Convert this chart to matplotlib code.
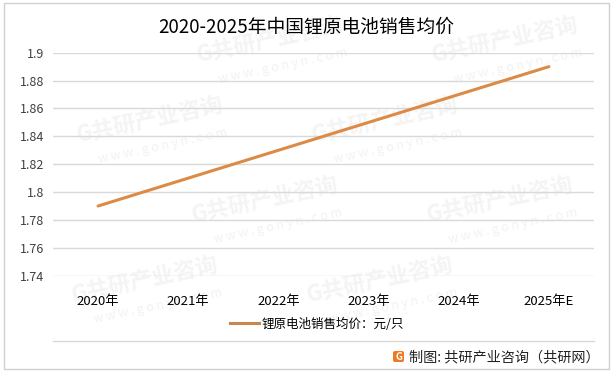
"""
2020-2025年中国锂原电池销售均价 line chart.
"""
import matplotlib.pyplot as plt
from matplotlib.patches import Rectangle, FancyBboxPatch
from matplotlib.lines import Line2D

plt.rcParams['font.family'] = ['Noto Sans CJK SC', 'DejaVu Sans']

# data
years = ['2020年', '2021年', '2022年', '2023年', '2024年', '2025年E']
price = [1.79, 1.81, 1.83, 1.85, 1.87, 1.89]
y_ticks = [1.74, 1.76, 1.78, 1.80, 1.82, 1.84, 1.86, 1.88, 1.90]
y_tick_labels = ['1.74', '1.76', '1.78', '1.8', '1.82', '1.84', '1.86', '1.88', '1.9']

LINE_COLOR = '#DC8A45'
GRID_COLOR = '#D9D9D9'
W, H = 614, 374

fig = plt.figure(figsize=(W / 100, H / 100), dpi=100)
fig.patch.set_facecolor('white')

# watermark (faint, behind everything), only where it fits inside the picture
for row in range(-1, 6):
    for col in range(-1, 4):
        wx = col * 235 + row * 115 - 40
        wy = row * 80 + 40
        if not (10 < wx < W - 175 and 25 < wy < H - 60):
            continue
        fig.text(wx / W, 1 - wy / H, 'G共研产业咨询', fontsize=16, fontweight='bold',
                 color='#F4F4F4', rotation=12, ha='left', va='center', zorder=-5)
        fig.text((wx + 22) / W, 1 - (wy + 26) / H, 'w w w . g o n y n . c o m', fontsize=9,
                 color='#F2F2F2', rotation=12, ha='left', va='center', zorder=-5)

# outer frame
fig.add_artist(Rectangle((4 / W, 1 - 369 / H), 605 / W, 366 / H, transform=fig.transFigure,
                         fill=False, edgecolor='#D0D0D0', linewidth=1.0))

ax = fig.add_axes([53 / W, 1 - 275.7 / H, 541 / W, 223 / H])
ax.set_facecolor('none')

x = list(range(len(years)))
ax.plot(x, price, color=LINE_COLOR, linewidth=2.2, solid_capstyle='round', zorder=3)

ax.set_xlim(-0.5, len(years) - 0.5)
ax.set_ylim(1.74, 1.90)
ax.set_yticks(y_ticks)
ax.set_yticklabels(y_tick_labels)
ax.set_xticks(x)
ax.set_xticklabels(years)
ax.grid(axis='y', color=GRID_COLOR, linewidth=1.0)
ax.set_axisbelow(True)
for s in ax.spines.values():
    s.set_visible(False)
ax.tick_params(axis='both', length=0, labelsize=9, colors='#404040')
ax.tick_params(axis='x', pad=14, labelcolor='black', labelsize=9.5)
ax.tick_params(axis='y', pad=6)

# title
fig.text(306 / W, 1 - 27 / H, '2020-2025年中国锂原电池销售均价', ha='center', va='center',
         fontsize=13.5, color='black')

# legend
leg = fig.legend(handles=[Line2D([], [], color='#C9874E', linewidth=2.2)],
                 labels=['锂原电池销售均价：元/只'], loc='center',
                 bbox_to_anchor=(317 / W, 1 - 324 / H), frameon=False, fontsize=9,
                 handlelength=2.3, handletextpad=0.2)

# separator line
fig.add_artist(Line2D([53 / W, 594 / W], [1 - 341 / H, 1 - 341 / H], transform=fig.transFigure,
                      color='#D9D9D9', linewidth=1.0))

# source with logo
fig.add_artist(FancyBboxPatch((393 / W, 1 - 362 / H), 11 / W, 11 / H, transform=fig.transFigure,
                              boxstyle='round,pad=0,rounding_size=0.004',
                              facecolor='#F07A22', edgecolor='none'))
fig.text(398.5 / W, 1 - 356.5 / H, 'G', ha='center', va='center', fontsize=7,
         fontweight='bold', color='white')
fig.text(409 / W, 1 - 357 / H, '制图: 共研产业咨询（共研网）', ha='left', va='center',
         fontsize=10.2, color='#222222')

fig.savefig('out.png', dpi=100, facecolor='white')
